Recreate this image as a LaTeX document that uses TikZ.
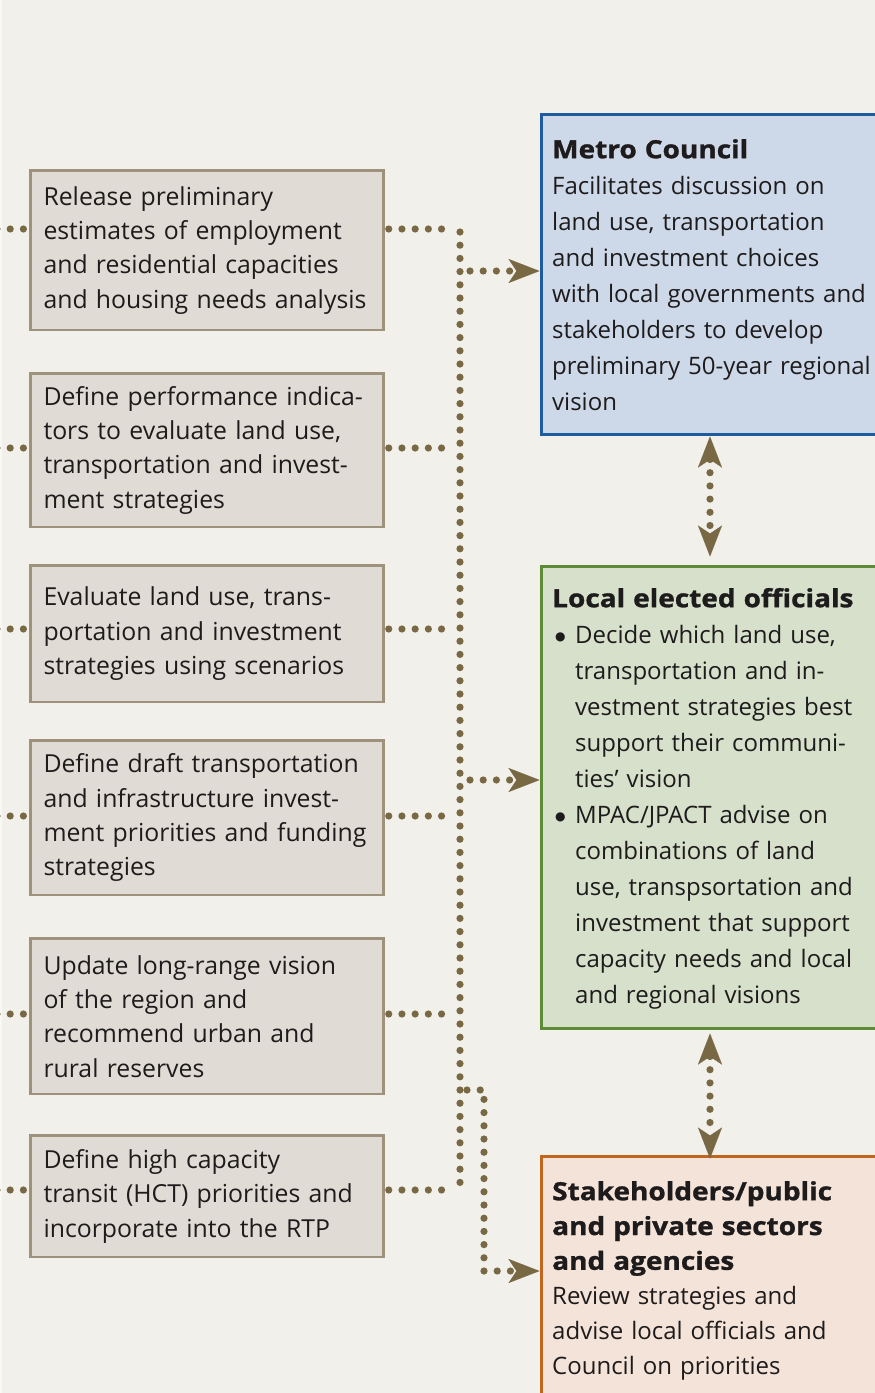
\documentclass[tikz,border=0pt]{standalone}
\usepackage{fontspec}
\setmainfont{Open Sans}
\newfontfamily\titlefont[FakeStretch=1.12,FakeBold=1.2]{Open Sans}
\newfontfamily\dejavu{DejaVu Sans}
\usetikzlibrary{arrows.meta,calc}
\definecolor{bgc}{HTML}{F1F0EB}
\definecolor{edgec}{HTML}{F8F8F5}
\definecolor{lfill}{HTML}{E0DCD5}
\definecolor{lbord}{HTML}{9E927C}
\definecolor{arc}{HTML}{786843}
\definecolor{mfill}{HTML}{CDD8E8}
\definecolor{mbord}{HTML}{1F5C9E}
\definecolor{gfill}{HTML}{D6E0CA}
\definecolor{gbord}{HTML}{5E8B36}
\definecolor{sfill}{HTML}{F4E3D8}
\definecolor{sbord}{HTML}{C2661D}
\definecolor{txt}{HTML}{1E1B1C}
\newcommand\ttlA{\titlefont\bfseries\fontsize{25}{36}\selectfont}
\newcommand\ttlB{\titlefont\bfseries\fontsize{25}{34.8}\selectfont}
\newcommand\bul{\hspace*{3pt}\makebox[20pt][l]{\raisebox{3.2pt}{\dejavu\fontsize{12}{12}\selectfont ●}}}
\newcommand\ind{\hspace*{23pt}}
\begin{document}
\begin{tikzpicture}[x=1pt,y=-1pt,
  leftbox/.style={draw=lbord, fill=lfill, line width=2.5pt, anchor=north west,
    minimum width=353pt, text width=327pt, inner xsep=13pt, inner ysep=0pt,
    align=left, text=txt, font=\fontsize{24.8}{34.3}\selectfont},
  rbox/.style={anchor=north west, line width=3pt, minimum width=350pt, inner sep=0pt},
  rtext/.style={anchor=north west, inner sep=0pt, text width=322pt, align=left,
    text=txt, font=\fontsize{24}{36}\selectfont},
  dotline/.style={draw=arc, line width=7.2pt, line cap=round, dash pattern=on 0pt off 13.2pt},
  tip/.style={-{Stealth[length=31pt,width=24pt,inset=8pt,line width=0.01pt,fill=arc]}},
  dtip/.style={{Stealth[length=31pt,width=24pt,inset=8pt,line width=0.01pt,fill=arc]}-{Stealth[length=31pt,width=24pt,inset=8pt,line width=0.01pt,fill=arc]}}
]
\useasboundingbox (0,0) rectangle (875,1393);
\clip (0,0) rectangle (875,1393);
\fill[bgc] (0,0) rectangle (875,1393);
\fill[edgec] (0,0) rectangle (2,1393);

% coordinates
\coordinate (l1) at (-3,229);
\coordinate (l2) at (-3,448);
\coordinate (l3) at (-3,629);
\coordinate (l4) at (-3,816);
\coordinate (l5) at (-3,1014);
\coordinate (l6) at (-3,1190);
\coordinate (r1) at (451,229);
\coordinate (r2) at (451,448);
\coordinate (r3) at (451,629);
\coordinate (r4) at (451,816);
\coordinate (r5) at (451,1014);
\coordinate (r6) at (451,1190);
\coordinate (vtop) at (460,232);
\coordinate (vbot) at (460,1183);
\coordinate (am) at (470,271);
\coordinate (al) at (470,780);
\coordinate (bs) at (467,1090);
\coordinate (bc) at (484,1090);
\coordinate (bd) at (484,1271);
\coordinate (ax) at (710,0);

% boxes (left)
\node[leftbox, minimum height=159.5pt] (b1) at (29.25,169.25)
  {Release preliminary\\estimates of employment\\and residential capacities\\and housing needs analysis};
\node[leftbox, minimum height=153.5pt] (b2) at (29.25,372.25)
  {Define performance indica-\\tors to evaluate land use,\\transportation and invest-\\ment strategies};
\node[leftbox, minimum height=136.5pt] (b3) at (29.25,564.25)
  {Evaluate land use, trans-\\portation and investment\\strategies using scenarios};
\node[leftbox, minimum height=154.5pt] (b4) at (29.25,739.25)
  {Define draft transportation\\and infrastructure invest-\\ment priorities and funding\\strategies};
\node[leftbox, minimum height=155.5pt] (b5) at (29.25,937.25)
  {Update long-range vision\\of the region and\\recommend urban and\\rural reserves};
\node[leftbox, minimum height=121.5pt] (b6) at (29.25,1134.25)
  {Define high capacity\\transit (HCT) priorities and\\incorporate into the RTP};

% boxes (right)
\node[rbox, draw=mbord, fill=mfill, minimum height=320pt] (metro) at (539.5,112.5) {};
\node[rbox, draw=gbord, fill=gfill, minimum height=462pt] (local) at (539.5,564.5) {};
\node[rbox, draw=sbord, fill=sfill, minimum height=260pt] (stake) at (539.5,1154.5) {};

% dotted connectors
\foreach \i in {1,...,6} {
  \draw[dotline] (l\i) -- ($(l\i -| b\i.west)+(-5,0)$);
  \draw[dotline] ($(r\i -| b\i.east)+(4,0)$) -- (r\i);
}
\draw[dotline] (vtop) -- (vbot);
\draw[dotline, tip] (am) -- (am -| metro.west);
\draw[dotline, tip] (al) -- (al -| local.west);
\draw[dotline, tip] (bs) -- (bc) -- (bd) -- (bd -| stake.west);
\draw[dotline, dtip] ($(metro.south -| ax)+(0,1)$) -- ($(local.north -| ax)+(0,-8)$);
\draw[dotline, dtip] ($(local.south -| ax)+(0,4)$) -- ($(stake.north -| ax)+(0,4)$);

% right texts
\node[rtext] (metrot) at (552,134) {\rule{0pt}{24pt}{\ttlA Metro Council}\\
  Facilitates discussion on\\land use, transportation\\and investment choices\\
  with local governments and\\stakeholders to develop\\preliminary 50-year regional\\vision};
\node[rtext] (localt) at (552,583) {\rule{0pt}{24pt}{\ttlA Local elected officials}\\
  \bul Decide which land use,\\\ind transportation and in-\\\ind vestment strategies best\\
  \ind support their communi-\\\ind ties’ vision\\
  \bul MPAC/JPACT advise on\\\ind combinations of land\\\ind use, transpsortation and\\
  \ind investment that support\\\ind capacity needs and local\\\ind and regional visions};
\node[rtext, font=\fontsize{24}{34.8}\selectfont] (staket) at (552,1176) {\rule{0pt}{24pt}{\ttlB Stakeholders/public}\\
  {\ttlB and private sectors}\\{\ttlB and agencies}\\
  Review strategies and\\advise local officials and\\Council on priorities};
\end{tikzpicture}
\end{document}
